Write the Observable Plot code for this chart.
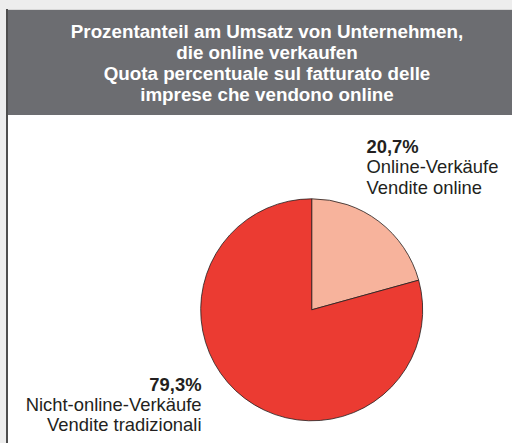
<!DOCTYPE html>
<html><head><meta charset="utf-8">
<script src="https://cdn.jsdelivr.net/npm/d3@7"></script>
<script src="https://cdn.jsdelivr.net/npm/@observablehq/plot@0.6"></script>
<style>
html,body{margin:0;padding:0;width:512px;height:443px;overflow:hidden;background:#ededed;font-family:"Liberation Sans",Arial,sans-serif;}
#frame{position:absolute;left:6px;top:9px;width:520px;height:440px;border-left:2px solid #4e4e4e;background:#fff;}
#title{height:106px;background:#6c6d71;color:#fff;font-weight:bold;font-size:18.8px;line-height:21px;text-align:center;box-sizing:border-box;padding-top:10.5px;width:518px;border-top:1px solid #d8d8d8;}
#chart{position:absolute;left:0;top:106px;}
</style></head><body>
<div id="frame"><div id="title"></div><div id="chart"></div></div>
<script>
const titleLines = [
  "Prozentanteil am Umsatz von Unternehmen,",
  "die online verkaufen",
  "Quota percentuale sul fatturato delle",
  "imprese che vendono online"
];
const categoriesDe = ["Online-Verkäufe", "Nicht-online-Verkäufe"];
const categoriesIt = ["Vendite online", "Vendite tradizionali"];
const values = [20.7, 79.3];
const valueLabels = ["20,7%", "79,3%"];

const sliceColors = ["#f7b39c", "#eb3b32"];
const ink = "#231f20";

document.getElementById("title").innerHTML = titleLines.join("<br>");

const cx = 303.7, cy = 194.8, r = 111;

const pie = d3.pie().sort(null).value(d => d)(values);

function pieMark(index, scales) {
  const x0 = scales.x(0), y0 = scales.y(0);
  const rad = scales.x(1) - scales.x(0);
  const arc = d3.arc().innerRadius(0).outerRadius(rad);
  const g = d3.create("svg:g").attr("transform", `translate(${x0},${y0})`);
  g.selectAll("path").data(pie).join("path")
    .attr("d", arc)
    .attr("fill", (d, i) => sliceColors[i])
    .attr("stroke", ink)
    .attr("stroke-width", 0.8)
    .attr("stroke-linejoin", "round");
  return g.node();
}

const up = [0], low = [1];
const fs = 18.4;
const chart = Plot.plot({
  width: 504,
  height: 328,
  style: {fontFamily: "'Liberation Sans', Arial, sans-serif", background: "#fff"},
  x: {domain: [-1, 1], range: [cx - r, cx + r], axis: null},
  y: {domain: [-1, 1], range: [cy + r, cy - r], axis: null},
  marks: [
    pieMark,
    Plot.text(up, {x: 0, y: 0, text: i => valueLabels[i], dx: 54.3, dy: -157.5, textAnchor: "start", lineAnchor: "bottom", fontSize: fs, fontWeight: "bold", fill: ink}),
    Plot.text(up, {x: 0, y: 0, text: i => categoriesDe[i] + "\n" + categoriesIt[i], dx: 54.3, dy: -116.8, textAnchor: "start", lineAnchor: "bottom", lineHeight: 1.1, fontSize: fs, fill: ink}),
    Plot.text(low, {x: 0, y: 0, text: i => valueLabels[i], dx: -110.7, dy: 80.9, textAnchor: "end", lineAnchor: "bottom", fontSize: fs, fontWeight: "bold", fill: ink}),
    Plot.text(low, {x: 0, y: 0, text: i => categoriesDe[i] + "\n" + categoriesIt[i], dx: -110.7, dy: 120.9, textAnchor: "end", lineAnchor: "bottom", lineHeight: 1.087, fontSize: fs, fill: ink})
  ]
});
document.getElementById("chart").appendChild(chart);
</script>
</body></html>
